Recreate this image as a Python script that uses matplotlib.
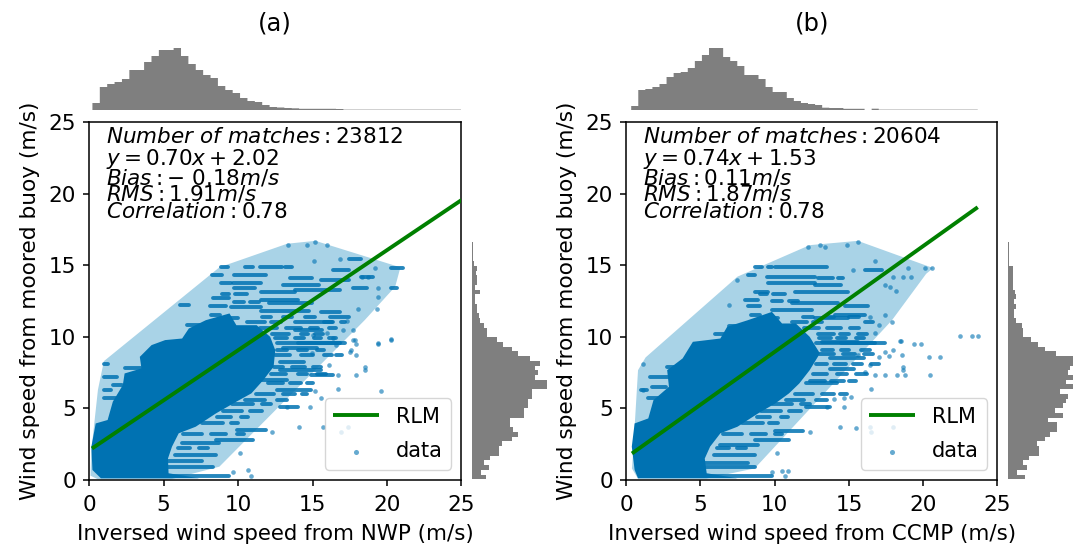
# Two wind speed scatter panels with marginal histograms
import numpy as np
import matplotlib.pyplot as plt

W, H = 1073, 548

# Panel text
titles = ['(a)', '(b)']
xlabels = ['Inversed wind speed from NWP (m/s)', 'Inversed wind speed from CCMP (m/s)']
ylabel = 'Wind speed from moored buoy (m/s)'
stats_a = [r'$Number\ of\ matches: 23812$', r'$y=0.70x+2.02$', r'$Bias: -\ 0.18m/s$',
           r'$RMS: 1.91m/s$', r'$Correlation: 0.78$']
stats_b = [r'$Number\ of\ matches: 20604$', r'$y=0.74x+1.53$', r'$Bias: 0.11m/s$',
           r'$RMS: 1.87m/s$', r'$Correlation: 0.78$']
stats_y = [23.95, 22.4, 21.1, 19.95, 18.75]

# Fit lines
line_a_x = [0.2, 25]
line_a_y = [2.2, 19.55]
line_b_x = [0.4, 23.67]
line_b_y = [1.85, 19.05]

# Light hull round the data
hull_a_x = [0.1, 0.15, 0.6, 1.0, 8.75, 13.3, 15.2, 20.9, 20.55, 18.5, 8.75, 5.5, 0.6]
hull_a_y = [0.3, 2.0, 6.3, 8.3, 14.85, 16.5, 16.7, 14.85, 13.5, 11.16, 0.93, 0.05, 0.05]
hull_b_x = [0.4, 0.46, 0.81, 1.32, 7.5, 12.36, 15.6, 20.67, 20.2, 17.9, 8.66, 5.4, 0.8]
hull_b_y = [0.8, 1.63, 7.67, 8.56, 14.2, 16.4, 16.7, 14.8, 14.4, 11.16, 0.81, 0.1, 0.1]

# Outline of the solid overplotted core
core_a_x = [0.23, 0.16, 0.45, 1.25, 1.6, 2.27, 2.39, 3.52, 3.41, 4.2, 5.11, 6.25, 6.7, 7.84, 9.43,
            9.89, 11.25, 12.16, 12.5, 12.39, 11.7, 10.9, 9.89, 8.52, 7.16, 6.02, 5.57, 5.3,
            5.34, 7.39, 0.8]
core_a_y = [0.7, 2.33, 3.95, 4.19, 5.47, 6.63, 7.44, 7.79, 8.6, 9.42, 9.77, 9.88, 10.58, 11.16, 11.63,
            10.81, 10.81, 10.0, 9.07, 7.91, 6.98, 6.05, 5.47, 4.65, 3.72, 3.26, 2.33, 1.5,
            0.47, 0.12, 0.12]
core_b_x = [0.58, 0.39, 0.58, 1.5, 1.85, 2.89, 2.77, 3.81, 4.5, 6.35, 6.81, 8.2, 9.82, 10.5, 11.43,
            12.36, 13.05, 12.36, 11.66, 10.97, 10.05, 8.89, 7.5, 6.35, 5.66, 5.3, 5.43, 7.5, 0.81]
core_b_y = [0.7, 2.33, 3.95, 4.3, 5.58, 6.51, 7.67, 8.49, 9.65, 9.88, 10.7, 11.16, 11.74, 10.93, 10.93,
            10.0, 8.84, 7.67, 6.74, 6.05, 5.35, 4.65, 3.72, 3.26, 2.33, 1.5, 0.47, 0.12, 0.12]

# Horizontal runs of points: start, end, buoy speed
runs_a_x0 = [8.85, 10.45, 11.45, 13.15, 8.28, 9.75, 13.5, 9.65, 8.85, 13.05, 9.75, 11.55, 13.85, 15.55,
             16.35, 20.25, 17.45, 17.75, 20.25, 18.25, 8.35, 8.15, 6.1, 11.55, 9.55, 12.05, 11.55,
             15.55, 16.15, 6.55, 13.85, 13.85, 14.05, 12.6, 13.0, 12.85, 12.6, 12.85, 11.25, 9.9,
             8.5, 6.25, 5.8, 3.3, 5.1, 5.6, 12.85, 14.9, 2.4, 1.0, 1.0, 1.6, 1.0, 1.0,
             11.6, 13.0, 14.5, 10.6, 12.2, 15.8, 16.9, 11.5, 13.2, 14.8, 16.1, 12.3, 14.2, 15.2,
             12.5, 13.8, 15.1, 16.1, 12.6, 14.0, 15.3, 12.5, 14.2, 15.8, 16.6, 12.4, 13.6, 15.0,
             12.2, 14.0, 15.3, 12.0, 13.5, 14.6, 11.2, 13.0, 14.3, 10.5, 12.6, 9.6, 11.6, 9.0, 10.8,
             8.6, 10.2, 7.6, 9.5, 6.3, 8.2, 9.9, 6.0, 7.4, 8.9, 9.8, 9.7, 10.8, 8.2, 9.2]
runs_a_x1 = [9.3, 11.0, 12.95, 13.65, 8.95, 11.85, 14.95, 11.55, 9.55, 15.45, 11.15, 13.85, 16.85, 17.45,
             17.45, 21.05, 18.25, 18.65, 20.65, 19.05, 9.4, 9.2, 6.7, 14.05, 11.55, 14.95, 14.75,
             16.85, 17.45, 7.45, 16.35, 15.65, 16.85, 17.2, 15.3, 15.6, 14.9, 14.4, 13.3, 11.9,
             11.0, 8.75, 8.5, 7.6, 8.3, 9.4, 14.0, 16.4, 3.5, 1.25, 1.9, 2.2, 1.5, 1.8,
             12.2, 13.6, 15.2, 11.8, 12.9, 16.3, 17.2, 12.6, 14.2, 15.4, 16.6, 13.4, 14.7, 15.7,
             13.3, 14.4, 15.6, 16.6, 13.3, 14.6, 15.8, 13.5, 15.0, 16.3, 17.0, 13.0, 14.5, 15.6,
             13.2, 14.6, 15.9, 13.0, 14.2, 15.0, 12.4, 13.8, 14.6, 11.8, 13.3, 11.0, 12.2, 10.3, 11.6,
             9.5, 10.7, 9.0, 10.0, 7.6, 9.2, 10.4, 6.8, 8.0, 9.4, 10.6, 10.4, 11.4, 8.8, 10.0]
runs_a_y = [14.85, 14.85, 14.9, 14.9, 14.3, 14.3, 14.1, 13.75, 13.75, 13.6, 13.4, 13.1, 13.3, 14.0,
            14.65, 14.8, 15.4, 13.4, 13.4, 14.2, 12.7, 12.15, 12.2, 12.57, 12.1, 12.35, 11.8,
            11.75, 11.4, 10.85, 11.05, 10.5, 9.55, 9.6, 9.2, 7.7, 6.3, 8.25, 7.0, 3.5,
            2.8, 2.55, 1.75, 1.3, 0.93, 0.3, 5.1, 7.3, 7.85, 8.07, 7.2, 6.65, 6.3, 5.7,
            11.4, 11.4, 11.4, 11.0, 11.0, 11.0, 11.0, 10.6, 10.6, 10.6, 10.6, 10.2, 10.2, 10.2,
            9.9, 9.9, 9.9, 9.9, 9.1, 9.1, 9.1, 8.7, 8.7, 8.7, 8.7, 7.9, 7.9, 7.9,
            7.4, 7.4, 7.4, 6.8, 6.8, 6.8, 6.0, 6.0, 6.0, 5.6, 5.6, 5.3, 5.3, 4.8, 4.8,
            4.4, 4.4, 4.0, 4.0, 3.2, 3.2, 3.2, 2.2, 2.2, 13.0, 13.0, 12.45, 12.45, 11.5, 11.3]
runs_b_x0 = [8.68, 9.58, 10.0, 8.23, 9.47, 12.94, 14.29, 16.08, 9.58, 8.68, 11.37, 12.7, 8.0, 8.23,
             11.15, 9.8, 14.73, 14.06, 12.72, 6.9, 6.0, 13.16, 14.5, 12.8, 13.74, 13.74, 12.1, 12.1,
             10.05, 8.66, 6.35, 5.9, 3.12, 5.2, 5.66, 2.77, 1.62, 1.73, 1.04, 1.5,
             11.9, 13.3, 15.0, 11.2, 12.6, 16.1, 12.0, 13.5, 15.1, 12.9, 14.4, 15.6,
             13.0, 14.2, 15.5, 13.2, 14.5, 15.8, 13.0, 14.6, 16.0, 12.8, 14.0, 15.3, 16.5,
             12.6, 14.2, 15.5, 12.4, 13.8, 15.0, 11.4, 13.2, 14.4, 10.8, 12.8, 9.8, 11.8, 9.1, 11.0,
             8.8, 10.4, 7.8, 9.6, 6.5, 8.4, 10.0, 6.1, 7.5, 9.0, 9.9, 9.8, 11.0, 8.4, 9.4]
runs_b_x1 = [9.13, 9.8, 13.5, 8.68, 12.72, 13.95, 14.62, 17.2, 12.72, 9.58, 14.96, 14.5, 8.9, 9.0,
             14.3, 12.5, 16.3, 16.08, 14.96, 8.68, 6.66, 15.63, 16.75, 17.44, 16.0, 15.36, 14.2, 13.74,
             11.9, 10.97, 8.9, 8.66, 8.2, 8.66, 9.8, 3.81, 2.89, 2.66, 1.4, 2.42,
             12.6, 14.0, 15.7, 12.2, 13.2, 16.6, 13.0, 14.5, 15.7, 14.0, 15.0, 16.2,
             13.8, 14.8, 16.0, 13.9, 15.0, 16.4, 14.0, 15.4, 16.6, 13.5, 14.8, 15.9, 17.0,
             13.5, 14.9, 16.2, 13.4, 14.7, 15.5, 12.6, 14.0, 14.9, 12.0, 13.5, 11.2, 12.4, 10.4, 11.8,
             9.7, 10.9, 9.2, 10.2, 7.8, 9.4, 10.5, 6.9, 8.1, 9.5, 10.7, 10.5, 11.6, 9.0, 10.2]
runs_b_y = [14.85, 14.85, 14.87, 14.3, 14.2, 14.13, 14.13, 14.67, 13.74, 13.16, 13.16, 13.6, 12.6, 12.15,
            12.34, 11.88, 12.18, 11.53, 11.3, 10.78, 10.18, 9.67, 9.55, 9.58, 8.49, 7.72, 6.74, 5.1,
            3.44, 2.79, 2.44, 1.74, 1.2, 0.93, 0.3, 7.86, 7.2, 6.5, 6.28, 5.7,
            11.4, 11.4, 11.4, 11.0, 11.0, 11.0, 10.6, 10.6, 10.6, 10.2, 10.2, 10.2,
            9.9, 9.9, 9.9, 9.1, 9.1, 9.1, 8.8, 8.8, 8.8, 8.1, 8.1, 8.1, 8.1,
            7.4, 7.4, 7.4, 6.9, 6.9, 6.9, 6.0, 6.0, 6.0, 5.6, 5.6, 5.3, 5.3, 4.8, 4.8,
            4.4, 4.4, 4.0, 4.0, 3.2, 3.2, 3.2, 2.2, 2.2, 13.0, 13.0, 12.5, 12.5, 11.5, 11.3]

# Single points
pts_a_x = [17.7, 17.95, 19.4, 20.3, 17.95, 17.5, 18.5, 18.5, 17.95, 16.7, 16.1, 19.6, 16.7, 15.2, 15.6,
           14.8, 13.3, 14.1, 12.3, 10.15, 9.66, 10.7, 10.9, 15.7, 16.9, 17.4, 15.16, 13.37, 14.6, 15.94,
           15.1, 16.84, 19.2, 18.3, 18.74, 19.4, 19.4, 19.3, 18.07, 17.06, 17.73, 20.3, 19.4, 17.85,
           17.3, 15.94, 16.4, 15.05, 16.6, 17.6, 14.94]
pts_a_y = [9.77, 9.5, 9.5, 9.8, 8.72, 8.95, 7.9, 7.7, 7.33, 7.33, 8.0, 6.2, 6.35, 6.23, 5.7,
           5.1, 5.07, 3.72, 3.37, 1.86, 0.58, 0.7, 0.3, 3.67, 3.37, 3.72, 16.64, 16.4, 16.4, 16.4,
           15.3, 15.43, 14.8, 14.2, 14.2, 13.4, 12.8, 11.95, 11.95, 10.5, 10.5, 9.85, 9.55, 9.8,
           11.1, 10.25, 9.9, 10.13, 9.4, 9.1, 8.9]
pts_b_x = [22.47, 23.3, 23.67, 19.4, 19.86, 18.5, 17.94, 17.4, 17.0, 17.67, 18.6, 20.37, 21.13, 15.6, 16.4,
           18.64, 18.64, 18.25, 18.8, 17.44, 16.74, 16.05, 20.44, 16.47, 15.13, 14.67, 13.97, 14.67, 13.5,
           14.4, 12.36, 10.16, 9.8, 10.5, 10.9, 10.7, 15.5, 16.4, 16.5, 17.94, 6.93, 1.15, 1.15,
           15.63, 14.85, 13.39, 13.05, 12.27, 16.75, 15.3, 19.0, 20.1, 20.56, 18.66, 19.2, 18.0, 17.4,
           17.76, 18.2, 7.45, 17.87, 17.4, 16.4, 17.0, 16.75, 18.43]
pts_b_y = [10.05, 10.05, 10.05, 9.5, 9.5, 9.7, 9.07, 8.95, 8.6, 8.65, 8.72, 8.6, 8.6, 8.7, 8.0,
           7.9, 7.7, 7.33, 7.33, 7.33, 7.33, 7.56, 7.33, 6.33, 5.8, 5.7, 5.63, 5.1, 5.1,
           3.72, 3.37, 1.86, 0.58, 0.65, 0.65, 0.3, 3.6, 3.72, 3.37, 3.72, 12.2, 8.07, 6.28,
           16.64, 16.4, 16.3, 16.4, 16.3, 15.3, 14.67, 14.8, 14.8, 14.8, 14.2, 14.2, 14.2, 13.6,
           13.5, 13.2, 14.0, 11.0, 11.5, 11.4, 10.8, 10.25, 9.7]

# Top histograms, bar heights in pixels
top_a = [7, 23, 26, 28, 31, 40, 40, 48, 54, 60, 60, 62, 54, 46, 40, 35, 32, 24, 20, 17, 12, 9, 8, 5, 3,
         2.5, 2, 1.7, 1.2, 1.2, 1.2, 1.2, 1.2, 1, 0.35, 0.35, 0.35, 0.35, 0.35, 0.35, 0.35, 0.35, 0.35,
         0.35, 0.35, 0.35, 0.35, 0.35, 0.35, 0.35]
top_b = [4, 20, 21, 23, 26, 33, 37, 38, 42, 49, 55, 62, 62, 53, 49, 44, 35, 35, 31, 23, 18, 18, 12, 9, 7,
         6, 5, 2.3, 2, 2, 1.2, 1.2, 1.2, 0, 1.3, 0.35, 0.35, 0.35, 0.35, 0.35, 0.35, 0.35, 0.35, 0.35,
         0.35, 0.35, 0.35, 0.35, 0.35]

# Right histograms, bar lengths in pixels, bottom bin first
right_a = [14, 9, 17, 12, 18, 27, 27, 30, 40, 46, 41, 38, 38, 52, 52, 56, 56, 60, 60, 75, 75, 63, 66, 63,
           68, 58, 46, 40, 31, 25, 15, 15, 12, 8, 7, 5, 5, 3, 3, 8, 3, 5, 5, 4, 5, 2, 1, 1, 1, 1]
right_b = [17, 9, 19, 15, 21, 31, 31, 29, 37, 42, 49, 49, 40, 55, 47, 55, 58, 60, 52, 70, 58, 70, 60, 62,
           70, 70, 48, 37, 30, 23, 15, 15, 14, 8, 6, 6, 8, 6, 8, 7, 5, 5, 5, 5, 5, 1, 1, 1, 1, 1]

scatter_color = '#0072B2'
hist_color = '#7f7f7f'
hull_color = '#A9D3E7'

plt.rcParams['font.family'] = 'DejaVu Sans'
plt.rcParams['mathtext.fontset'] = 'dejavusans'
fig = plt.figure(figsize=(W / 100, H / 100), dpi=100)


def px_axes(left, top, right, bottom):
    return fig.add_axes([left / W, 1 - bottom / H, (right - left) / W, (bottom - top) / H])


def draw_panel(left, right, hist_left, title, xlabel, stats, hull_x, hull_y, core_x, core_y,
               run_x0, run_x1, run_y, pts_x, pts_y, line_x, line_y, top_vals, top_range, right_vals):
    ax = px_axes(left, 122, right, 480)
    ax.fill(hull_x, hull_y, color=hull_color, lw=0, zorder=1)
    ax.fill(core_x, core_y, color=scatter_color, lw=0, zorder=2)
    ax.hlines(run_y, run_x0, run_x1, color=scatter_color, lw=2.8, alpha=0.85, capstyle='round', zorder=2)
    pts = ax.scatter(pts_x, pts_y, s=11, color=scatter_color, alpha=0.6, lw=0, zorder=2, label='data')
    fit, = ax.plot(line_x, line_y, color='green', lw=2.8, label='RLM', zorder=3, solid_capstyle='butt')
    ax.set_xlim(0, 25)
    ax.set_ylim(0, 25)
    ax.set_xticks(range(0, 30, 5))
    ax.set_yticks(range(0, 30, 5))
    ax.tick_params(labelsize=15.5, width=1.1, length=4.5, pad=5)
    ax.tick_params(axis='x', pad=6)
    ax.set_xlabel(xlabel, fontsize=15.4, labelpad=7)
    ax.set_ylabel(ylabel, fontsize=15.6, labelpad=6)
    for sp in ax.spines.values():
        sp.set_linewidth(1.1)
    for txt, y in zip(stats, stats_y):
        ax.text(1.14, y, txt, fontsize=15.5, va='center', ha='left', zorder=4)
    ax.legend([fit, pts], ['RLM', 'data'], loc='lower right', fontsize=15, handlelength=2.2,
              borderaxespad=0.5, markerscale=1.1, labelspacing=0.7)
    ax.text(0.5, 1.275, title, transform=ax.transAxes, fontsize=17.5, ha='center', va='center')

    # Marginal histograms
    top_ax = px_axes(left, 47, right, 110)
    top_ax.stairs(top_vals, np.linspace(top_range[0], top_range[1], len(top_vals) + 1),
                  fill=True, color=hist_color, snap=False)
    top_ax.set_xlim(0, 25)
    top_ax.set_ylim(0, 63)
    top_ax.axis('off')

    side_ax = px_axes(hist_left, 122, hist_left + 80, 480)
    side_ax.stairs(right_vals, np.linspace(0.05, 16.6, len(right_vals) + 1),
                   fill=True, color=hist_color, orientation='horizontal')
    side_ax.set_xlim(0, 80)
    side_ax.set_ylim(0, 25)
    side_ax.axis('off')


draw_panel(89, 461.5, 472, titles[0], xlabels[0], stats_a, hull_a_x, hull_a_y, core_a_x, core_a_y,
           runs_a_x0, runs_a_x1, runs_a_y, pts_a_x, pts_a_y, line_a_x, line_a_y, top_a, (0.23, 25), right_a)
draw_panel(626, 997.5, 1008, titles[1], xlabels[1], stats_b, hull_b_x, hull_b_y, core_b_x, core_b_y,
           runs_b_x0, runs_b_x1, runs_b_y, pts_b_x, pts_b_y, line_b_x, line_b_y, top_b, (0.35, 23.67), right_b)

plt.savefig('out.png', dpi=100)
